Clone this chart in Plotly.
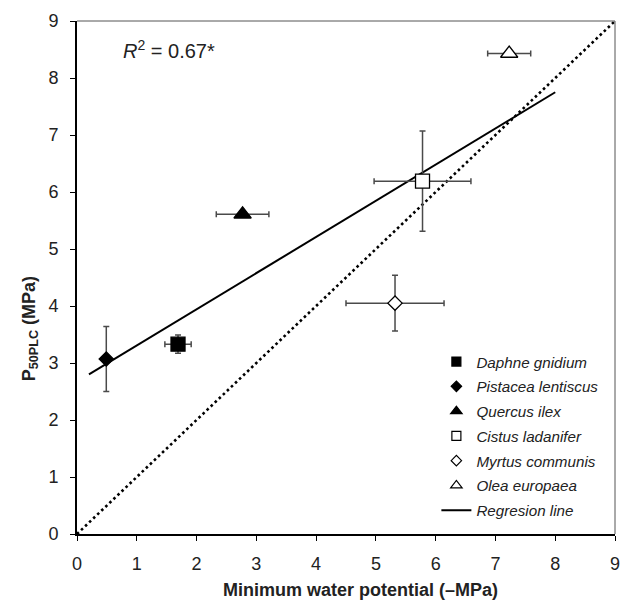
import plotly.graph_objects as go

# ---- data ----
species = ["Daphne gnidium", "Pistacea lentiscus", "Quercus ilex",
           "Cistus ladanifer", "Myrtus communis", "Olea europaea"]
min_wp = [1.69, 0.49, 2.77, 5.78, 5.32, 7.23]        # -MPa
p50 = [3.33, 3.07, 5.61, 6.19, 4.05, 8.43]           # MPa
min_wp_err = [0.22, 0.0, 0.44, 0.81, 0.82, 0.36]
p50_err = [0.16, 0.57, 0.0, 0.88, 0.49, 0.0]

reg_x = [0.2, 8.0]
reg_y = [2.8, 7.75]
one_to_one = [0, 9]

x_ticks = list(range(0, 10))
y_ticks = list(range(0, 10))

# ---- styles ----
symbols = ["square", "diamond", "triangle-up", "square", "diamond", "triangle-up"]
fills = ["black", "black", "black", "white", "white", "white"]
sizes = [14, 11, 15, 14, 11, 15]
legend_sizes = [9, 8, 10, 9, 8, 10]

FONT = "Liberation Sans, Arial, sans-serif"
ERR_COLOR = "#4a4a4a"

fig = go.Figure()

# 1:1 dotted line
fig.add_trace(go.Scatter(x=one_to_one, y=one_to_one, mode="lines",
                         line=dict(color="black", width=2.6, dash="2.6px,3px"),
                         showlegend=False, hoverinfo="skip"))

# regression line
fig.add_trace(go.Scatter(x=reg_x, y=reg_y, mode="lines",
                         line=dict(color="black", width=2),
                         showlegend=False, hoverinfo="skip"))

# points with error bars
for i, sp in enumerate(species):
    ex = dict(type="data", array=[min_wp_err[i]], color=ERR_COLOR,
              thickness=1.5, width=3, visible=min_wp_err[i] > 0)
    ey = dict(type="data", array=[p50_err[i]], color=ERR_COLOR,
              thickness=1.5, width=3, visible=p50_err[i] > 0)
    fig.add_trace(go.Scatter(
        x=[min_wp[i]], y=[p50[i]], mode="markers",
        marker=dict(symbol=symbols[i], size=sizes[i], color=fills[i],
                    line=dict(color="black", width=1.3)),
        error_x=ex, error_y=ey, showlegend=False, name=sp))

# legend entries
for i, sp in enumerate(species):
    fig.add_trace(go.Scatter(
        x=[None], y=[None], mode="markers", name=f"<i>{sp}</i>",
        legendgroup=f"g{i}",
        marker=dict(symbol=symbols[i], size=legend_sizes[i], color=fills[i],
                    line=dict(color="black", width=1.2))))
fig.add_trace(go.Scatter(x=[None], y=[None], mode="lines",
                         name="<i>Regresion line</i>", legendgroup="g6",
                         line=dict(color="black", width=2)))

axis_common = dict(range=[0, 9], showgrid=False, zeroline=False,
                   showline=True, linecolor="black", linewidth=2,
                   ticks="outside", ticklen=5, tickwidth=1, tickcolor="black",
                   tickfont=dict(family=FONT, size=18, color="#222"))

fig.update_layout(
    width=627, height=603,
    margin=dict(l=77, r=7, t=21, b=69),
    plot_bgcolor="white", paper_bgcolor="white",
    xaxis=dict(**axis_common, tickvals=x_ticks, ticktext=[str(v) for v in x_ticks],
               ticklabelstandoff=7),
    yaxis=dict(**axis_common, tickvals=y_ticks, ticktext=[str(v) for v in y_ticks],
               ticklabelstandoff=8),
    font=dict(family=FONT, color="black"),
    legend=dict(x=0.668, y=0.368, xanchor="left", yanchor="top",
                font=dict(family=FONT, size=15.2, color="#222"),
                bgcolor="rgba(0,0,0,0)", tracegroupgap=2,
                traceorder="grouped"),
    shapes=[
        dict(type="line", xref="paper", yref="paper", x0=0, x1=1, y0=1, y1=1,
             line=dict(color="#555", width=1)),
        dict(type="line", xref="paper", yref="paper", x0=1, x1=1, y0=0, y1=1,
             line=dict(color="#555", width=1)),
    ],
    annotations=[
        dict(text="<i>R</i><sup>2</sup> = 0.67*", x=0.74, y=8.5, xref="x", yref="y",
             xanchor="left", yanchor="middle", showarrow=False,
             font=dict(family=FONT, size=20, color="#222")),
        dict(text="<b>Minimum water potential (–MPa)</b>", x=0.5, y=-0.1,
             xref="paper", yref="paper", showarrow=False,
             font=dict(family=FONT, size=18, color="#222")),
        dict(text="<b>P<sub>50PLC</sub> (MPa)</b>", x=-0.09, y=3.6,
             xref="paper", yref="y", textangle=-90, showarrow=False,
             xanchor="center", yanchor="middle",
             font=dict(family=FONT, size=18, color="#222")),
    ],
)

# title positions: pixel -> paper coordinates
plot_w = 627 - 77 - 7
plot_h = 603 - 21 - 69
ann = list(fig.layout.annotations)
ann[1].update(x=(363 - 77) / plot_w, y=(534 - 590) / plot_h, yanchor="middle")
ann[2].update(x=(30 - 77) / plot_w)
fig.layout.annotations = ann

fig.write_html("out.html")
